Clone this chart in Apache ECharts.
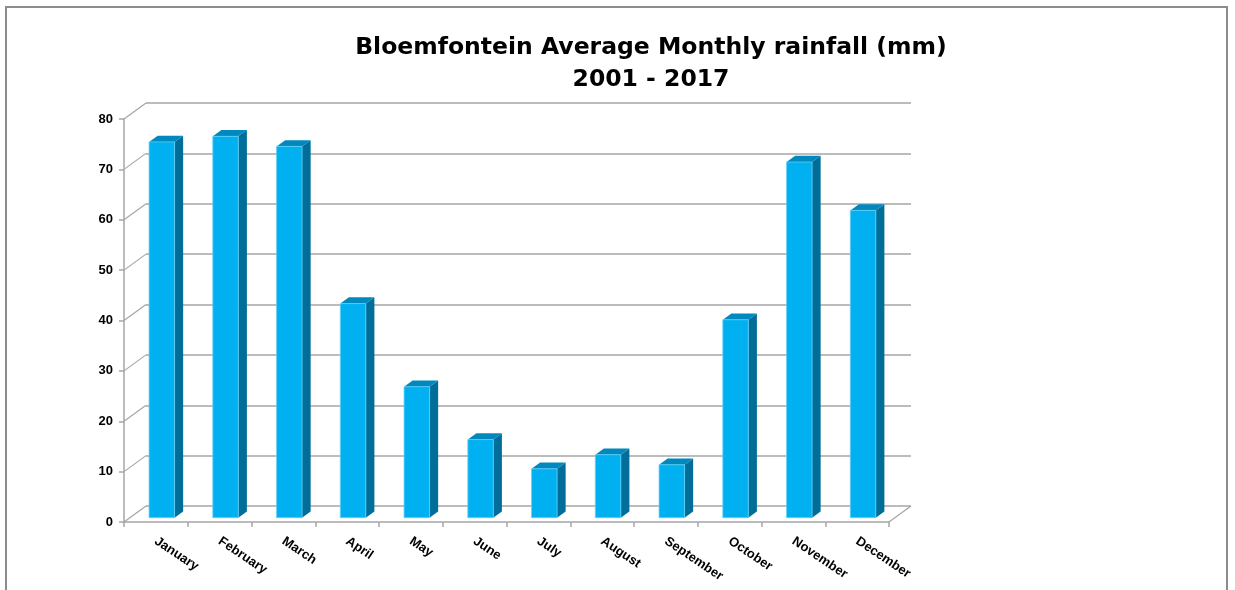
<!DOCTYPE html>
<html>
<head>
<meta charset="utf-8">
<title>Bloemfontein Average Monthly rainfall</title>
<script src="https://cdn.jsdelivr.net/npm/echarts@6/dist/echarts.min.js"></script>
<style>
    html, body { margin: 0; padding: 0; background: #fff; }
    #chart { width: 1235px; height: 590px; }
</style>
</head>
<body>
<div id="chart"></div>
<script>
// chart data
const months = ['January', 'February', 'March', 'April', 'May', 'June',
    'July', 'August', 'September', 'October', 'November', 'December'];
const rainfall = [74.6, 75.7, 73.7, 42.5, 26, 15.5, 9.7, 12.5, 10.5, 39.3, 70.6, 61];
const yTicks = [0, 10, 20, 30, 40, 50, 60, 70, 80];

// 3d look: depth offset of the back wall, in px
const DX = 22;
const DY = -16;
const BAR_FRONT = 0.27; // where the bar's front face sits in the depth
const BAR_DEPTH = 0.39;
const GRID_COLOR = '#a6a6a6';

let chart = echarts.init(document.getElementById('chart'));

// side walls: diagonal lines from the front axis to the back wall
function renderWall (params, api) {
    let cs = params.coordSys;
    let y = api.coord([0, api.value(1)])[1];
    let children = [{
        type: 'line',
        shape: { x1: cs.x, y1: y, x2: cs.x + DX, y2: y + DY },
        style: { stroke: GRID_COLOR, lineWidth: 1.2 }
    }];
    if (api.value(1) === 0) {
        // right edge of the floor
        children.push({
            type: 'line',
            shape: { x1: cs.x + cs.width, y1: y, x2: cs.x + cs.width + DX, y2: y + DY },
            style: { stroke: GRID_COLOR, lineWidth: 1.2 }
        });
    }
    return { type: 'group', children: children };
}

function renderBar (params, api) {
    let base = api.coord([api.value(0), 0]);
    let top = api.coord([api.value(0), api.value(1)]);
    let bw = api.size([1, 0])[0];
    let w = bw * 0.4;
    let x0 = base[0] - w / 2 + BAR_FRONT * DX;
    let yb = base[1] + BAR_FRONT * DY;
    let yt = top[1] + BAR_FRONT * DY;
    let ddx = BAR_DEPTH * DX;
    let ddy = BAR_DEPTH * DY;
    return {
        type: 'group',
        children: [
            {
                type: 'polygon',
                shape: { points: [[x0 + w, yt], [x0 + w + ddx, yt + ddy], [x0 + w + ddx, yb + ddy], [x0 + w, yb]] },
                style: { fill: '#006e98' }
            },
            {
                type: 'polygon',
                shape: { points: [[x0, yt], [x0 + w, yt], [x0 + w + ddx, yt + ddy], [x0 + ddx, yt + ddy]] },
                style: { fill: '#0088bf' }
            },
            {
                type: 'rect',
                shape: { x: x0, y: yt, width: w, height: yb - yt },
                style: { fill: '#00b0f0', stroke: '#5fd0f5', lineWidth: 0.8 }
            }
        ]
    };
}

let option = {
    backgroundColor: '#fff',
    animation: false,
    title: {
        text: 'Bloemfontein Average Monthly rainfall (mm)\n2001 - 2017',
        left: 646,
        top: 27,
        textAlign: 'center',
        textStyle: {
            fontFamily: 'DejaVu Sans',
            fontWeight: 'bold',
            fontSize: 23.5,
            lineHeight: 32,
            color: '#000'
        }
    },
    graphic: [{
        type: 'rect',
        shape: { x: 6, y: 7, width: 1221, height: 600 },
        style: { fill: null, stroke: '#8c8c8c', lineWidth: 2 },
        silent: true
    }],
    grid: [
        { left: 124, top: 119, width: 765, height: 403, containLabel: false },
        { left: 124 + DX, top: 119 + DY, width: 765, height: 403, containLabel: false }
    ],
    xAxis: [
        {
            type: 'category',
            data: months,
            gridIndex: 0,
            boundaryGap: true,
            axisLine: { show: true, lineStyle: { color: GRID_COLOR, width: 1.5 } },
            axisTick: { show: true, length: 5, lineStyle: { color: GRID_COLOR, width: 1.5 } },
            axisLabel: {
                interval: 0,
                rotate: -34,
                margin: 18,
                color: '#000',
                fontWeight: 'bold',
                fontSize: 13,
                fontFamily: 'Liberation Sans'
            },
            splitLine: { show: false }
        },
        {
            type: 'category',
            data: months,
            gridIndex: 1,
            show: false
        }
    ],
    yAxis: [
        {
            type: 'value',
            gridIndex: 0,
            min: 0,
            max: 80,
            interval: 10,
            axisLine: { show: true, lineStyle: { color: GRID_COLOR, width: 1.5 } },
            axisTick: { show: true, length: 5, lineStyle: { color: GRID_COLOR, width: 1.5 } },
            axisLabel: {
                margin: 11,
                color: '#000',
                fontWeight: 'bold',
                fontSize: 13,
                fontFamily: 'Liberation Sans'
            },
            splitLine: { show: false }
        },
        {
            type: 'value',
            gridIndex: 1,
            min: 0,
            max: 80,
            interval: 10,
            axisLine: { show: false },
            axisTick: { show: false },
            axisLabel: { show: false },
            splitLine: { show: true, lineStyle: { color: GRID_COLOR, width: 1.5 } }
        }
    ],
    series: [
        {
            type: 'custom',
            xAxisIndex: 0,
            yAxisIndex: 0,
            renderItem: renderWall,
            data: yTicks.map(v => [0, v]),
            silent: true,
            z: 1
        },
        {
            type: 'custom',
            name: 'Rainfall',
            xAxisIndex: 0,
            yAxisIndex: 0,
            renderItem: renderBar,
            data: rainfall.map((v, i) => [i, v]),
            z: 3
        }
    ]
};

chart.setOption(option);
</script>
</body>
</html>
